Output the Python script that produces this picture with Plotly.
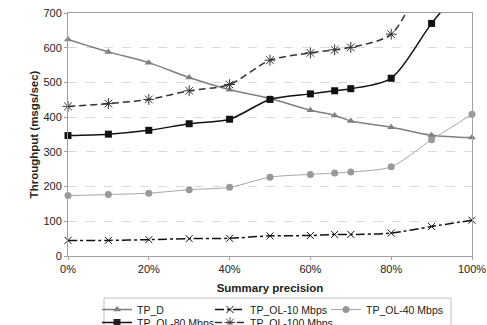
import plotly.graph_objects as go

precision = [0, 10, 20, 30, 40, 50, 60, 66, 70, 80, 90, 100]
tp_d = [624, 588, 557, 514, 479, 454, 420, 405, 389, 371, 348, 341]
tp_ol_10 = [45, 45, 47, 50, 51, 58, 59, 62, 62, 66, 85, 103]
tp_ol_40 = [174, 177, 181, 191, 198, 227, 235, 239, 242, 257, 335, 408]
tp_ol_80 = [347, 351, 362, 381, 394, 451, 467, 476, 482, 512, 670, 810]
tp_ol_100 = [431, 439, 451, 476, 494, 564, 585, 594, 601, 639, 840, 960]
x_ticks = [0, 20, 40, 60, 80, 100]
x_tick_labels = ["0%", "20%", "40%", "60%", "80%", "100%"]

YMAX = 700
W, H = 487, 325
# (name, values, line style, marker style, legend id, legend left px, legend top px)
series = [
    ("TP_D", tp_d, dict(color="#7f7f7f", width=1.5),
     dict(symbol="triangle-up", size=7, color="#7f7f7f"), "legend", 97, 295),
    ("TP_OL-10 Mbps", tp_ol_10, dict(color="#111111", width=1.5, dash="dashdot"),
     dict(symbol="x-thin-open", size=7, color="#111111", line=dict(width=1, color="#111111")), "legend2", 210, 295),
    ("TP_OL-40 Mbps", tp_ol_40, dict(color="#a6a6a6", width=1),
     dict(symbol="circle", size=7, color="#999999"), "legend3", 326, 295),
    ("TP_OL-80 Mbps", tp_ol_80, dict(color="#111111", width=1.5),
     dict(symbol="square", size=7, color="#111111"), "legend4", 97, 308),
    ("TP_OL-100 Mbps", tp_ol_100, dict(color="#333333", width=1.5, dash="7px,4px"),
     dict(symbol="asterisk-open", size=9, color="#333333", line=dict(width=1, color="#333333")), "legend5", 210, 308),
]

fig = go.Figure()
legends = {}
for name, vals, line, marker, leg, lx, ly in series:
    m = dict(marker)
    m["opacity"] = [1 if v <= YMAX else 0 for v in vals]
    fig.add_trace(go.Scatter(
        x=precision, y=vals, name=name, mode="lines+markers",
        line=dict(shape="spline", smoothing=0.8, **line), marker=m,
        cliponaxis=False, legend=leg,
    ))
    legends[leg] = dict(orientation="h", xref="container", yref="container",
                        x=lx / W, y=1 - ly / H, xanchor="left", yanchor="top",
                        borderwidth=0, font=dict(size=10.5, color="#222222"),
                        itemwidth=30, bgcolor="rgba(0,0,0,0)")

font = "Liberation Sans, Arial, sans-serif"
fig.update_layout(
    width=W, height=H,
    margin=dict(l=68, r=15, t=13, b=69, autoexpand=False),
    paper_bgcolor="white", plot_bgcolor="white",
    font=dict(family=font, size=11, color="#222222"),
    showlegend=True,
    shapes=[dict(type="rect", xref="paper", yref="paper",
                 x0=(104 - 68) / 404, x1=(451 - 68) / 404,
                 y0=(256 - 298) / 243, y1=(256 - 335) / 243,
                 line=dict(color="#bfbfbf", width=1), layer="below")],
    xaxis=dict(range=[0, 100], tickvals=x_ticks, ticktext=x_tick_labels,
               showgrid=False, zeroline=False, showline=True, linecolor="#a0a0a0", linewidth=1,
               mirror=True, ticks="outside", ticklen=3, tickcolor="#a0a0a0",
               title=dict(text="<b>Summary precision</b>", font=dict(size=11.5), standoff=9),
               tickfont=dict(size=11)),
    yaxis=dict(range=[0, YMAX], dtick=100, showgrid=True, gridcolor="#d9d9d9", griddash="dash",
               zeroline=False, showline=True, linecolor="#a0a0a0", linewidth=1, mirror=True,
               ticks="outside", ticklen=3, tickcolor="#a0a0a0",
               title=dict(text="<b>Throughput (msgs/sec)</b>", font=dict(size=11.5), standoff=2),
               tickfont=dict(size=11)),
    **legends,
)
fig.write_html("out.html")
